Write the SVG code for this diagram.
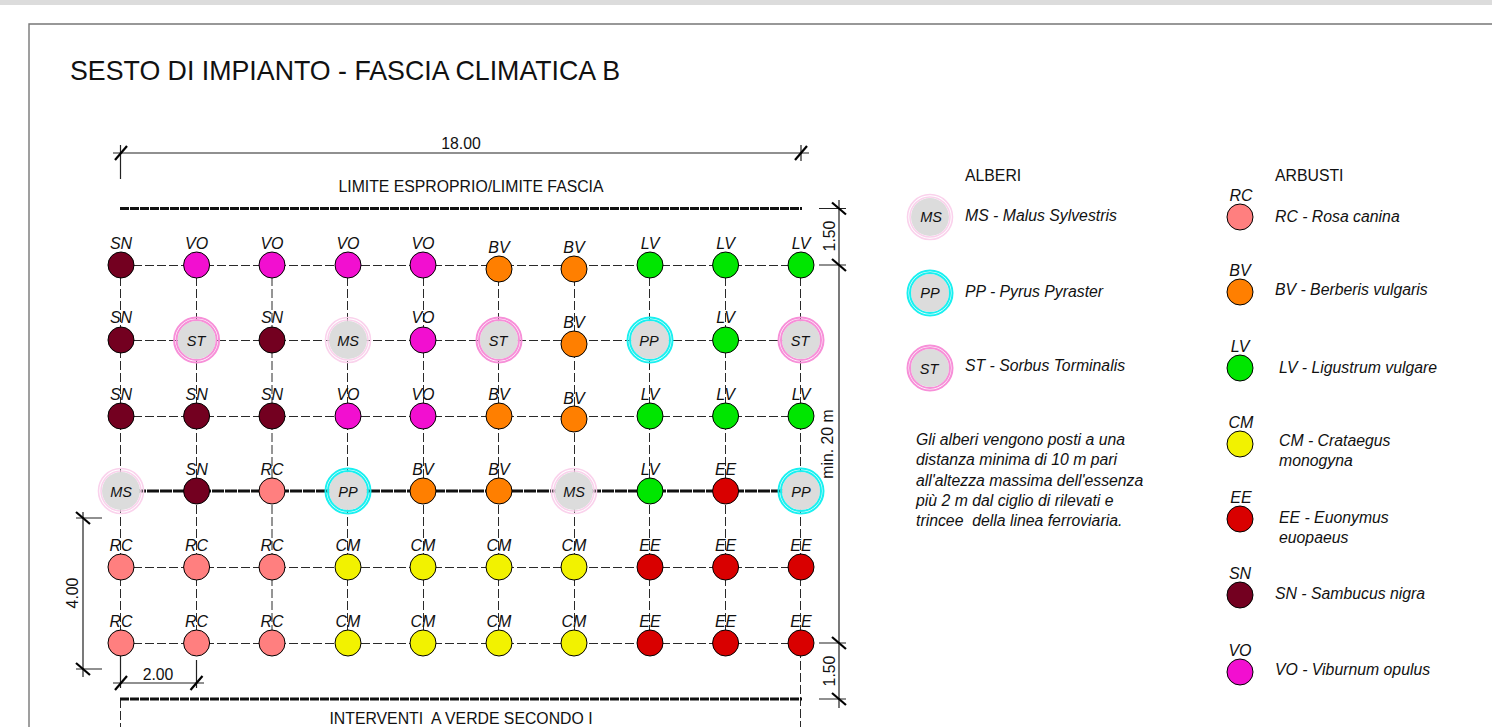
<svg xmlns="http://www.w3.org/2000/svg" width="1492" height="727" viewBox="0 0 1492 727">
<style>
text{font-family:"Liberation Sans",Arial,sans-serif;fill:#111}
.i{font-style:italic;font-size:16px}
.k{font-style:italic;font-size:14.500px}
.c{text-anchor:middle}
.n{font-size:15.800px}
.l{font-size:15.800px;font-style:italic}
.d{stroke:#2a2a2a;stroke-width:1;stroke-dasharray:9 3;fill:none}
.h{stroke:#111;stroke-width:3;fill:none}
.s{stroke:#222;stroke-width:1.200;fill:none}
.sh{stroke:#000;stroke-width:1}
.RC{fill:#ff7f7f}.BV{fill:#ff7f00}.LV{fill:#00e600}.CM{fill:#f2f200}.EE{fill:#d90000}.SN{fill:#730020}.VO{fill:#f20fd0}
.core{fill:#dcdcdc}
.rMS{fill:none;stroke:#fad2ec;stroke-width:1.600}
.rPP{fill:none;stroke:#19f0f0;stroke-width:2}
.rST{fill:none;stroke:#f78fd8;stroke-width:2}
</style>
<defs>
<path id="tick" d="M-6 7L6 -7" stroke="#000" stroke-width="2.200" fill="none"/>
</defs>
<rect x="0" y="0" width="1492" height="5" fill="#dcdcdc"/>
<path d="M29 727V24H1492" fill="none" stroke="#777" stroke-width="1.400"/>
<text x="70" y="80" font-size="26.750">SESTO DI IMPIANTO - FASCIA CLIMATICA B</text>

<g id="connectors">
<path class="d" d="M121 265.500H801M121 340.500H801M121 416.500H801M121 567.500H801M121 643.500H801"/>
<path class="d" d="M120.500 265V643M196.500 265V643M272 265V643M347.500 265V643M423.500 265V643M498.500 265V643M574.500 265V643M649.500 265V643M725.500 265V643M800.500 265V727M120.500 699V727"/>
<path class="h" d="M121 491H801" stroke-dasharray="12 1"/>
<path class="h" d="M120 208.500H802M120 699H802" stroke-dasharray="9 1"/>
<path class="s" d="M113 153H809M120.500 145V179M801 145V161M839 200V708M819 208.500H846M819 265H846M819 643H846M819 699H846M76 518H102M76 669H102M83 512V677M120.500 650V688M196.500 660V688M113 683H204"/>
<use href="#tick" x="121" y="153"/><use href="#tick" x="801" y="153"/>
<use href="#tick" x="839" y="208.500" transform="rotate(90 839 208.500)"/>
<use href="#tick" x="839" y="265" transform="rotate(90 839 265)"/>
<use href="#tick" x="839" y="643" transform="rotate(90 839 643)"/>
<use href="#tick" x="839" y="699" transform="rotate(90 839 699)"/>
<use href="#tick" x="83" y="518" transform="rotate(90 83 518)"/>
<use href="#tick" x="83" y="669" transform="rotate(90 83 669)"/>
<use href="#tick" x="121" y="683"/><use href="#tick" x="196.500" y="683"/>
</g>

<g id="dimension-labels">
<text class="n c" x="461" y="149">18.00</text>
<text class="n c" x="471" y="192">LIMITE ESPROPRIO/LIMITE FASCIA</text>
<text class="n c" x="461" y="724" xml:space="preserve">INTERVENTI  A VERDE SECONDO I</text>
<text class="n c" x="158" y="680">2.00</text>
<text class="n c" transform="translate(78 593) rotate(-90)">4.00</text>
<text class="n c" transform="translate(835 236) rotate(-90)">1.50</text>
<text class="n c" transform="translate(835 671) rotate(-90)">1.50</text>
<text class="n c" transform="translate(833 444) rotate(-90)">min. 20 m</text>
</g>

<g id="n0-0"><circle class="SN sh" cx="121" cy="265" r="13"/><text class="i c" x="121" y="249">SN</text></g>
<g id="n0-1"><circle class="VO sh" cx="196.600" cy="265" r="13"/><text class="i c" x="196.600" y="249">VO</text></g>
<g id="n0-2"><circle class="VO sh" cx="272" cy="265" r="13"/><text class="i c" x="272" y="249">VO</text></g>
<g id="n0-3"><circle class="VO sh" cx="348" cy="265" r="13"/><text class="i c" x="348" y="249">VO</text></g>
<g id="n0-4"><circle class="VO sh" cx="423" cy="265" r="13"/><text class="i c" x="423" y="249">VO</text></g>
<g id="n0-5"><circle class="BV sh" cx="499" cy="269" r="13"/><text class="i c" x="499" y="253">BV</text></g>
<g id="n0-6"><circle class="BV sh" cx="574" cy="269" r="13"/><text class="i c" x="574" y="253">BV</text></g>
<g id="n0-7"><circle class="LV sh" cx="650" cy="265" r="13"/><text class="i c" x="650" y="249">LV</text></g>
<g id="n0-8"><circle class="LV sh" cx="725.600" cy="265" r="13"/><text class="i c" x="725.600" y="249">LV</text></g>
<g id="n0-9"><circle class="LV sh" cx="801" cy="265" r="13"/><text class="i c" x="801" y="249">LV</text></g>

<g id="n1-0"><circle class="SN sh" cx="121" cy="340" r="13"/><text class="i c" x="121" y="323">SN</text></g>
<g id="n1-1"><circle class="core" cx="196.600" cy="340" r="19"/><circle class="rST" cx="196.600" cy="340" r="20"/><circle class="rST" cx="196.600" cy="340" r="22.500"/><text class="k c" x="196" y="346">ST</text></g>
<g id="n1-2"><circle class="SN sh" cx="272" cy="340" r="13"/><text class="i c" x="272" y="323">SN</text></g>
<g id="n1-3"><circle class="core" cx="348" cy="340" r="19"/><circle class="rMS" cx="348" cy="340" r="20"/><circle class="rMS" cx="348" cy="340" r="22.500"/><text class="k c" x="348" y="346">MS</text></g>
<g id="n1-4"><circle class="VO sh" cx="423" cy="340" r="13"/><text class="i c" x="423" y="323">VO</text></g>
<g id="n1-5"><circle class="core" cx="499" cy="340" r="19"/><circle class="rST" cx="499" cy="340" r="20"/><circle class="rST" cx="499" cy="340" r="22.500"/><text class="k c" x="498" y="346">ST</text></g>
<g id="n1-6"><circle class="BV sh" cx="574" cy="344" r="13"/><text class="i c" x="574" y="328">BV</text></g>
<g id="n1-7"><circle class="core" cx="650" cy="340" r="19"/><circle class="rPP" cx="650" cy="340" r="20"/><circle class="rPP" cx="650" cy="340" r="22.500"/><text class="k c" x="649" y="346">PP</text></g>
<g id="n1-8"><circle class="LV sh" cx="725.600" cy="340" r="13"/><text class="i c" x="725.600" y="323">LV</text></g>
<g id="n1-9"><circle class="core" cx="801" cy="340" r="19"/><circle class="rST" cx="801" cy="340" r="20"/><circle class="rST" cx="801" cy="340" r="22.500"/><text class="k c" x="800" y="346">ST</text></g>

<g id="n2-0"><circle class="SN sh" cx="121" cy="416" r="13"/><text class="i c" x="121" y="400">SN</text></g>
<g id="n2-1"><circle class="SN sh" cx="196.600" cy="416" r="13"/><text class="i c" x="196.600" y="400">SN</text></g>
<g id="n2-2"><circle class="SN sh" cx="272" cy="416" r="13"/><text class="i c" x="272" y="400">SN</text></g>
<g id="n2-3"><circle class="VO sh" cx="348" cy="416" r="13"/><text class="i c" x="348" y="400">VO</text></g>
<g id="n2-4"><circle class="VO sh" cx="423" cy="416" r="13"/><text class="i c" x="423" y="400">VO</text></g>
<g id="n2-5"><circle class="BV sh" cx="499" cy="416" r="13"/><text class="i c" x="499" y="400">BV</text></g>
<g id="n2-6"><circle class="BV sh" cx="574" cy="419" r="13"/><text class="i c" x="574" y="404">BV</text></g>
<g id="n2-7"><circle class="LV sh" cx="650" cy="416" r="13"/><text class="i c" x="650" y="400">LV</text></g>
<g id="n2-8"><circle class="LV sh" cx="725.600" cy="416" r="13"/><text class="i c" x="725.600" y="400">LV</text></g>
<g id="n2-9"><circle class="LV sh" cx="801" cy="416" r="13"/><text class="i c" x="801" y="400">LV</text></g>

<g id="n3-0"><circle class="core" cx="121" cy="491" r="19"/><circle class="rMS" cx="121" cy="491" r="20"/><circle class="rMS" cx="121" cy="491" r="22.500"/><text class="k c" x="121" y="497">MS</text></g>
<g id="n3-1"><circle class="SN sh" cx="196.600" cy="491" r="13"/><text class="i c" x="196.600" y="475">SN</text></g>
<g id="n3-2"><circle class="RC sh" cx="272" cy="491" r="13"/><text class="i c" x="272" y="475">RC</text></g>
<g id="n3-3"><circle class="core" cx="348" cy="491" r="19"/><circle class="rPP" cx="348" cy="491" r="20"/><circle class="rPP" cx="348" cy="491" r="22.500"/><text class="k c" x="348" y="497">PP</text></g>
<g id="n3-4"><circle class="BV sh" cx="423" cy="491" r="13"/><text class="i c" x="423" y="475">BV</text></g>
<g id="n3-5"><circle class="BV sh" cx="499" cy="491" r="13"/><text class="i c" x="499" y="475">BV</text></g>
<g id="n3-6"><circle class="core" cx="574" cy="491" r="19"/><circle class="rMS" cx="574" cy="491" r="20"/><circle class="rMS" cx="574" cy="491" r="22.500"/><text class="k c" x="574" y="497">MS</text></g>
<g id="n3-7"><circle class="LV sh" cx="650" cy="491" r="13"/><text class="i c" x="650" y="475">LV</text></g>
<g id="n3-8"><circle class="EE sh" cx="725.600" cy="491" r="13"/><text class="i c" x="725.600" y="475">EE</text></g>
<g id="n3-9"><circle class="core" cx="801" cy="491" r="19"/><circle class="rPP" cx="801" cy="491" r="20"/><circle class="rPP" cx="801" cy="491" r="22.500"/><text class="k c" x="801" y="497">PP</text></g>

<g id="n4-0"><circle class="RC sh" cx="121" cy="567" r="13"/><text class="i c" x="121" y="551">RC</text></g>
<g id="n4-1"><circle class="RC sh" cx="196.600" cy="567" r="13"/><text class="i c" x="196.600" y="551">RC</text></g>
<g id="n4-2"><circle class="RC sh" cx="272" cy="567" r="13"/><text class="i c" x="272" y="551">RC</text></g>
<g id="n4-3"><circle class="CM sh" cx="348" cy="567" r="13"/><text class="i c" x="348" y="551">CM</text></g>
<g id="n4-4"><circle class="CM sh" cx="423" cy="567" r="13"/><text class="i c" x="423" y="551">CM</text></g>
<g id="n4-5"><circle class="CM sh" cx="499" cy="567" r="13"/><text class="i c" x="499" y="551">CM</text></g>
<g id="n4-6"><circle class="CM sh" cx="574" cy="567" r="13"/><text class="i c" x="574" y="551">CM</text></g>
<g id="n4-7"><circle class="EE sh" cx="650" cy="567" r="13"/><text class="i c" x="650" y="551">EE</text></g>
<g id="n4-8"><circle class="EE sh" cx="725.600" cy="567" r="13"/><text class="i c" x="725.600" y="551">EE</text></g>
<g id="n4-9"><circle class="EE sh" cx="801" cy="567" r="13"/><text class="i c" x="801" y="551">EE</text></g>

<g id="n5-0"><circle class="RC sh" cx="121" cy="643" r="13"/><text class="i c" x="121" y="627">RC</text></g>
<g id="n5-1"><circle class="RC sh" cx="196.600" cy="643" r="13"/><text class="i c" x="196.600" y="627">RC</text></g>
<g id="n5-2"><circle class="RC sh" cx="272" cy="643" r="13"/><text class="i c" x="272" y="627">RC</text></g>
<g id="n5-3"><circle class="CM sh" cx="348" cy="643" r="13"/><text class="i c" x="348" y="627">CM</text></g>
<g id="n5-4"><circle class="CM sh" cx="423" cy="643" r="13"/><text class="i c" x="423" y="627">CM</text></g>
<g id="n5-5"><circle class="CM sh" cx="499" cy="643" r="13"/><text class="i c" x="499" y="627">CM</text></g>
<g id="n5-6"><circle class="CM sh" cx="574" cy="643" r="13"/><text class="i c" x="574" y="627">CM</text></g>
<g id="n5-7"><circle class="EE sh" cx="650" cy="643" r="13"/><text class="i c" x="650" y="627">EE</text></g>
<g id="n5-8"><circle class="EE sh" cx="725.600" cy="643" r="13"/><text class="i c" x="725.600" y="627">EE</text></g>
<g id="n5-9"><circle class="EE sh" cx="801" cy="643" r="13"/><text class="i c" x="801" y="627">EE</text></g>

<g id="legend-alberi">
<text class="n" x="965" y="181">ALBERI</text>
<g id="leg-MS"><circle class="core" cx="930" cy="217" r="19"/><circle class="rMS" cx="930" cy="217" r="20"/><circle class="rMS" cx="930" cy="217" r="22.500"/><text class="k c" x="931" y="222">MS</text><text class="l" x="965" y="221">MS - Malus Sylvestris</text></g>
<g id="leg-PP"><circle class="core" cx="930" cy="293" r="19"/><circle class="rPP" cx="930" cy="293" r="20"/><circle class="rPP" cx="930" cy="293" r="22.500"/><text class="k c" x="930" y="298">PP</text><text class="l" x="965" y="297">PP - Pyrus Pyraster</text></g>
<g id="leg-ST"><circle class="core" cx="930" cy="368" r="19"/><circle class="rST" cx="930" cy="368" r="20"/><circle class="rST" cx="930" cy="368" r="22.500"/><text class="k c" x="929" y="374">ST</text><text class="l" x="965" y="371">ST - Sorbus Torminalis</text></g>
</g>
<g id="note">
<text class="l" x="916" y="445">Gli alberi vengono posti a una</text>
<text class="l" x="916" y="465">distanza minima di 10 m pari</text>
<text class="l" x="916" y="486">all'altezza massima dell'essenza</text>
<text class="l" x="916" y="506">più 2 m dal ciglio di rilevati e</text>
<text class="l" x="916" y="526" xml:space="preserve">trincee  della linea ferroviaria.</text>
</g>
<g id="legend-arbusti">
<text class="n" x="1275" y="181">ARBUSTI</text>
<g id="leg-RC"><circle class="RC sh" cx="1240" cy="217" r="13"/><text class="i c" x="1241" y="201">RC</text><text class="l" x="1275" y="222">RC - Rosa canina</text></g>
<g id="leg-BV"><circle class="BV sh" cx="1240" cy="292" r="13"/><text class="i c" x="1240" y="276">BV</text><text class="l" x="1275" y="295">BV - Berberis vulgaris</text></g>
<g id="leg-LV"><circle class="LV sh" cx="1240" cy="368" r="13"/><text class="i c" x="1240" y="352">LV</text><text class="l" x="1279" y="373">LV - Ligustrum vulgare</text></g>
<g id="leg-CM"><circle class="CM sh" cx="1240" cy="444" r="13"/><text class="i c" x="1241" y="428">CM</text><text class="l" x="1279" y="446">CM - Crataegus</text><text class="l" x="1279" y="466">monogyna</text></g>
<g id="leg-EE"><circle class="EE sh" cx="1240" cy="519" r="13"/><text class="i c" x="1241" y="503">EE</text><text class="l" x="1279" y="523">EE - Euonymus</text><text class="l" x="1279" y="543">euopaeus</text></g>
<g id="leg-SN"><circle class="SN sh" cx="1240" cy="595" r="13"/><text class="i c" x="1240" y="579">SN</text><text class="l" x="1275" y="599">SN - Sambucus nigra</text></g>
<g id="leg-VO"><circle class="VO sh" cx="1240" cy="672" r="13"/><text class="i c" x="1240" y="656">VO</text><text class="l" x="1275" y="675">VO - Viburnum opulus</text></g>
</g>
</svg>
